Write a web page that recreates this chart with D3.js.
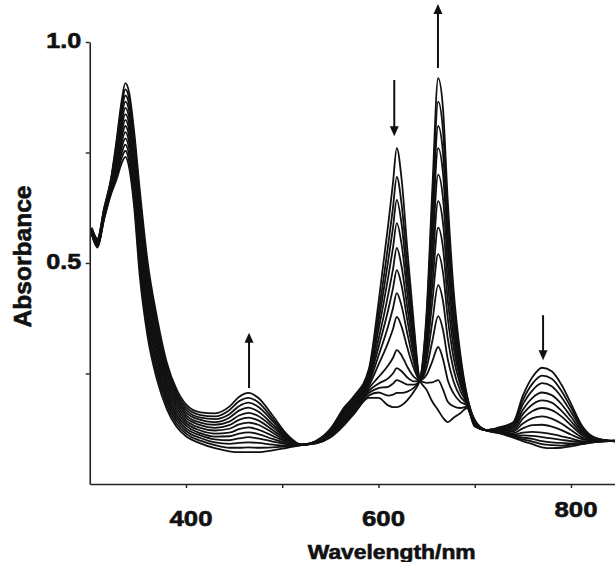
<!DOCTYPE html>
<html><head><meta charset="utf-8">
<script src="https://cdn.jsdelivr.net/npm/d3@7"></script>
<style>html,body{margin:0;padding:0;background:#fff;} svg{display:block;}</style>
</head><body><svg id="chart" width="615" height="562"></svg>
<script>
const wavelengths = [302,308,315,322,328,333,337,341,346,352,360,370,380,390,400,415,430,445,455,465,475,490,505,520,535,550,565,575,590,600,610,615,619,624,630,637,643,650,656,662,667,672,678,685,692,700,712,725,740,750,760,770,780,790,800,812,825,848];

const spectrum00 = [.565,.535,.600,.655,.690,.725,.740,.715,.630,.470,.335,.235,.170,.130,.108,.092,.081,.074,.072,.072,.072,.076,.082,.088,.097,.125,.175,.200,.260,.410,.585,.680,.760,.690,.530,.355,.235,.213,.186,.167,.150,.140,.150,.160,.172,.130,.122,.128,.140,.200,.242,.263,.255,.225,.182,.130,.105,.096];
const spectrum01 = [.566,.537,.602,.658,.697,.737,.754,.729,.644,.486,.349,.247,.179,.137,.114,.098,.088,.082,.082,.083,.082,.083,.085,.088,.097,.123,.172,.197,.255,.386,.540,.624,.695,.633,.492,.339,.235,.229,.230,.235,.214,.186,.176,.172,.175,.131,.122,.127,.137,.190,.227,.245,.238,.211,.173,.126,.104,.096];
const spectrum02 = [.568,.538,.604,.661,.705,.748,.768,.743,.658,.503,.363,.258,.188,.144,.120,.104,.094,.091,.093,.094,.093,.089,.087,.088,.096,.122,.168,.193,.249,.367,.504,.579,.643,.588,.462,.326,.235,.247,.278,.310,.283,.235,.205,.186,.177,.133,.122,.126,.133,.180,.212,.228,.221,.197,.163,.122,.103,.096];
const spectrum03 = [.569,.540,.606,.664,.713,.760,.782,.758,.673,.519,.378,.270,.196,.151,.126,.110,.101,.099,.103,.106,.103,.096,.090,.088,.096,.120,.165,.190,.244,.348,.467,.533,.590,.542,.431,.313,.235,.263,.324,.380,.349,.282,.232,.198,.180,.134,.122,.125,.129,.168,.195,.207,.201,.181,.152,.118,.102,.097];
const spectrum04 = [.570,.542,.608,.667,.720,.772,.796,.772,.687,.535,.392,.282,.205,.158,.132,.115,.107,.108,.114,.117,.113,.102,.092,.088,.095,.118,.162,.187,.238,.327,.428,.485,.534,.492,.399,.299,.235,.280,.368,.450,.414,.329,.259,.211,.183,.136,.122,.124,.126,.158,.180,.189,.184,.166,.142,.114,.101,.097];
const spectrum05 = [.571,.543,.610,.670,.728,.783,.810,.786,.701,.551,.406,.293,.214,.165,.138,.121,.114,.116,.124,.128,.123,.109,.095,.088,.095,.117,.158,.183,.233,.309,.393,.442,.484,.449,.370,.287,.235,.296,.414,.520,.479,.375,.286,.224,.185,.137,.122,.123,.122,.148,.165,.172,.167,.153,.133,.110,.100,.097];
const spectrum06 = [.573,.545,.613,.673,.735,.795,.824,.800,.715,.568,.420,.305,.223,.173,.144,.127,.121,.125,.135,.139,.134,.116,.097,.089,.095,.115,.155,.180,.228,.290,.357,.397,.432,.403,.340,.274,.235,.310,.452,.580,.535,.415,.310,.234,.187,.138,.122,.122,.119,.137,.149,.153,.148,.137,.122,.105,.099,.097];
const spectrum07 = [.574,.547,.615,.675,.743,.807,.837,.814,.729,.584,.434,.317,.231,.180,.150,.133,.127,.133,.145,.150,.144,.122,.100,.089,.094,.113,.152,.177,.222,.270,.320,.350,.378,.356,.308,.260,.235,.325,.491,.640,.591,.455,.333,.245,.190,.140,.122,.120,.115,.126,.133,.134,.130,.122,.112,.101,.098,.097];
const spectrum08 = [.575,.548,.617,.678,.750,.818,.851,.828,.743,.600,.448,.328,.240,.187,.156,.139,.134,.141,.155,.161,.154,.129,.102,.089,.094,.112,.148,.173,.217,.242,.268,.285,.303,.291,.265,.242,.235,.339,.530,.700,.647,.495,.356,.256,.192,.141,.122,.119,.112,.116,.118,.116,.113,.108,.103,.097,.097,.098];
const spectrum09 = [.576,.550,.619,.681,.758,.830,.865,.843,.758,.616,.463,.340,.249,.194,.162,.145,.140,.150,.166,.173,.164,.135,.105,.089,.093,.110,.145,.170,.211,.227,.239,.250,.262,.255,.241,.232,.235,.353,.568,.760,.703,.535,.379,.267,.194,.142,.121,.118,.109,.110,.109,.106,.103,.100,.097,.095,.096,.098];
const spectrum10 = [.578,.552,.621,.684,.765,.842,.879,.857,.772,.632,.477,.352,.258,.201,.168,.150,.147,.158,.176,.184,.175,.142,.107,.089,.093,.108,.142,.167,.206,.217,.220,.227,.235,.231,.225,.225,.235,.365,.600,.810,.749,.568,.398,.276,.196,.143,.121,.117,.108,.105,.102,.097,.094,.093,.092,.093,.096,.098];
const spectrum11 = [.579,.553,.623,.687,.773,.853,.893,.871,.786,.649,.491,.363,.266,.208,.174,.156,.153,.167,.187,.195,.185,.148,.110,.089,.092,.107,.138,.163,.200,.207,.200,.202,.206,.206,.209,.218,.235,.377,.636,.865,.800,.605,.419,.285,.198,.144,.121,.116,.106,.101,.096,.090,.088,.087,.089,.092,.095,.098];
const spectrum12 = [.580,.555,.625,.690,.780,.865,.907,.885,.800,.665,.505,.375,.275,.215,.180,.162,.160,.175,.197,.206,.195,.155,.112,.089,.092,.105,.135,.160,.195,.195,.178,.174,.174,.178,.190,.210,.235,.390,.670,.918,.850,.640,.440,.295,.200,.145,.121,.115,.105,.097,.090,.083,.081,.082,.085,.090,.095,.098];

const spectra = [spectrum00,spectrum01,spectrum02,spectrum03,spectrum04,spectrum05,spectrum06,spectrum07,spectrum08,spectrum09,spectrum10,spectrum11,spectrum12];

const xTickValues = [400,500,600,700,800];
const xTickLabels = ["400","","600","","800"];
const yTickValues = [0.25,0.5,0.75,1.0];
const yTickLabels = ["","0.5","","1.0"];

// arrows: wavelength, tail absorbance, head absorbance
const arrowWavelengths = [465.5, 616.4, 661.8, 771];
const arrowTail = [0.217, 0.914, 0.941, 0.382];
const arrowHead = [0.342, 0.787, 1.086, 0.280];

const svg = d3.select("#chart");
const x = d3.scaleLinear().domain([300, 850]).range([89.75, 619.1]);
const y = d3.scaleLinear().domain([0, 1]).range([484, 42]);
const FONT = "'Liberation Sans', Arial, Helvetica, sans-serif";

const line = d3.line()
  .x((d, i) => x(wavelengths[i]))
  .y(d => y(d))
  .curve(d3.curveMonotoneX);

svg.append("g").selectAll("path").data(spectra).join("path")
  .attr("d", line)
  .attr("fill", "none")
  .attr("stroke", "#111")
  .attr("stroke-width", 1.8)
  .attr("stroke-linejoin", "round");

function heavy(sel) {
  sel.attr("fill", "#111").attr("stroke", "#111").attr("stroke-width", 0.6)
    .style("font-family", FONT).style("font-weight", "bold");
}

// x axis
const xAxis = svg.append("g")
  .attr("transform", `translate(0,${y(0)})`)
  .call(d3.axisBottom(x).tickValues(xTickValues).tickSize(4).tickSizeOuter(0)
    .tickFormat((d, i) => xTickLabels[i]));
xAxis.select(".domain").attr("stroke", "#222").attr("stroke-width", 1.6);
xAxis.selectAll(".tick line").attr("stroke", "#222").attr("stroke-width", 1.4);
xAxis.selectAll(".tick text")
  .call(heavy)
  .style("font-size", "22px")
  .attr("dy", 0).attr("dx", 4.5)
  .attr("y", d => d === 800 ? 33 : 42)
  .each(function(d, i) { if (xTickLabels[i]) d3.select(this).attr("textLength", 43).attr("lengthAdjust", "spacingAndGlyphs"); });

// y axis
const yAxis = svg.append("g")
  .attr("transform", `translate(${x(300)},0)`)
  .call(d3.axisLeft(y).tickValues(yTickValues).tickSize(4).tickSizeOuter(0)
    .tickFormat((d, i) => yTickLabels[i]));
yAxis.select(".domain").attr("stroke", "#222").attr("stroke-width", 1.6);
yAxis.selectAll(".tick line").attr("stroke", "#222").attr("stroke-width", 1.4);
yAxis.selectAll(".tick text")
  .call(heavy)
  .style("font-size", "22px")
  .attr("dy", 0).attr("x", -8.5).attr("y", 5.5)
  .each(function(d, i) { if (yTickLabels[i]) d3.select(this).attr("textLength", 35).attr("lengthAdjust", "spacingAndGlyphs"); });

// axis titles
svg.append("text")
  .attr("x", 391.7).attr("y", 559)
  .attr("text-anchor", "middle")
  .attr("textLength", 168).attr("lengthAdjust", "spacingAndGlyphs")
  .call(heavy)
  .style("font-size", "20px")
  .text("Wavelength/nm");

svg.append("text")
  .attr("transform", "translate(30.5,256.5) rotate(-90)")
  .attr("text-anchor", "middle")
  .attr("textLength", 142).attr("lengthAdjust", "spacingAndGlyphs")
  .call(heavy)
  .style("font-size", "24px")
  .text("Absorbance");

// arrows
const arrowG = svg.append("g");
arrowWavelengths.forEach((w, i) => {
  const ax = x(w), y0 = y(arrowTail[i]), y1 = y(arrowHead[i]);
  const dir = y1 < y0 ? -1 : 1;
  const headLen = 10, headHalf = 4.5;
  arrowG.append("line")
    .attr("x1", ax).attr("x2", ax)
    .attr("y1", y0).attr("y2", y1 - dir * headLen * 0.6)
    .attr("stroke", "#111").attr("stroke-width", 2);
  arrowG.append("path")
    .attr("d", `M${ax},${y1} L${ax - headHalf},${y1 - dir * headLen} L${ax + headHalf},${y1 - dir * headLen} Z`)
    .attr("fill", "#111");
});
</script>
</body></html>
